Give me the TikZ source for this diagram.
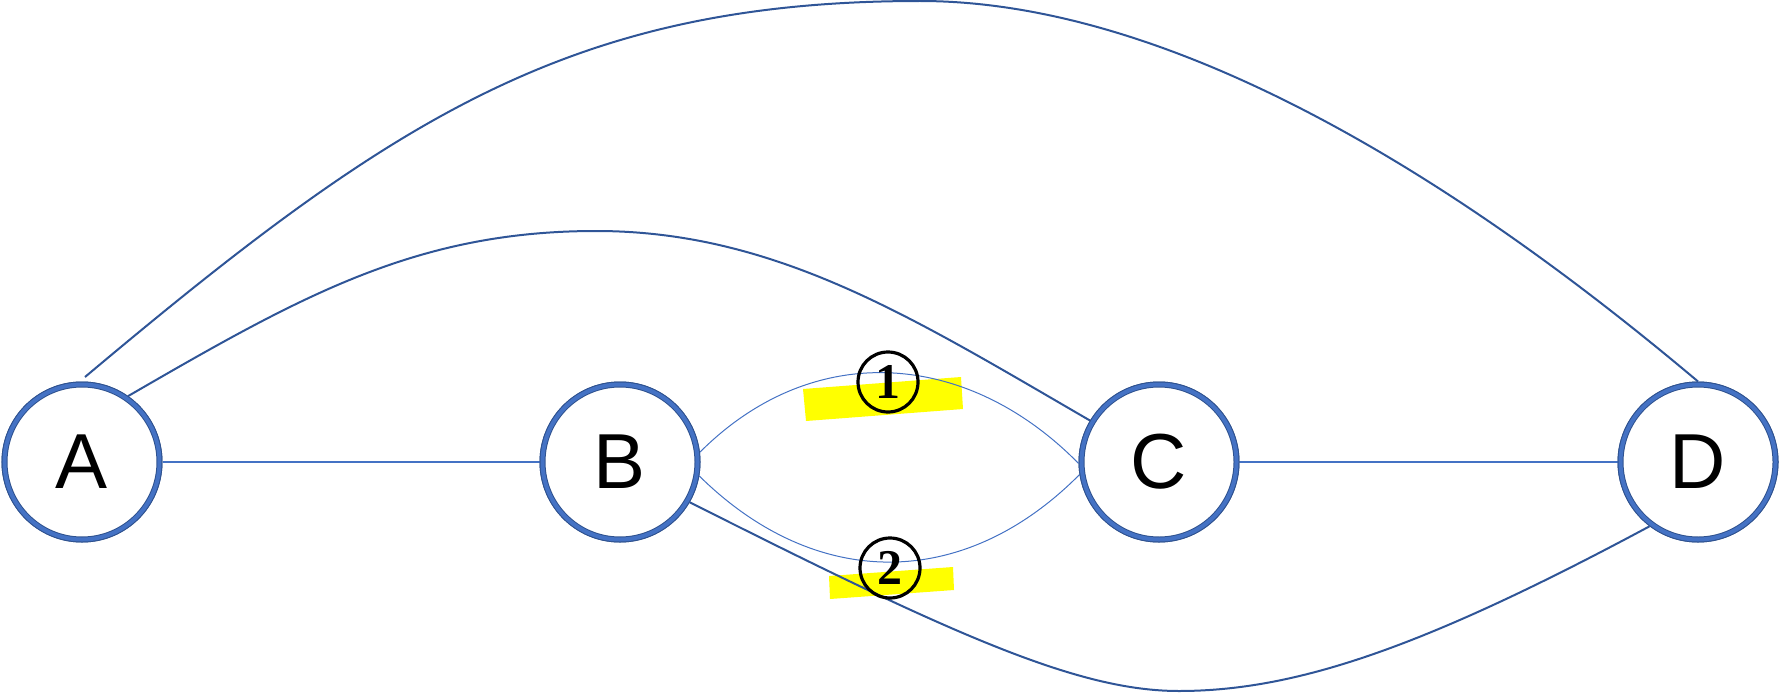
\documentclass[tikz,border=0pt]{standalone}
\usepackage{fontspec}
\newfontfamily\lettersans{Liberation Sans}
\newfontfamily\digitserif{Liberation Serif}
\definecolor{ringblue}{HTML}{4472C4}
\definecolor{ringedge}{HTML}{2F528F}
\definecolor{curveblue}{HTML}{2F5597}
\definecolor{hiyellow}{HTML}{FFFF00}
\tikzset{
  vertex/.style={circle, draw=ringedge, double=ringblue, line width=1pt, double distance=4pt,
    fill=white, minimum size=155pt, inner sep=0pt, outer sep=3pt,
    font=\lettersans\fontsize{78}{80}\selectfont},
  numcirc/.style={circle, draw=black, line width=3.2pt, minimum size=60pt, inner sep=0pt,
    font=\digitserif\bfseries\fontsize{50}{52}\selectfont},
  straightedge/.style={draw=ringblue, line width=1.5pt},
  thinarc/.style={draw=ringblue, line width=1pt},
  bigcurve/.style={draw=curveblue, line width=2pt},
  highlight/.style={fill=hiyellow, draw=none}
}
\begin{document}
\begin{tikzpicture}[x=1pt, y=-1pt]
\useasboundingbox (0,0) rectangle (1779,693);
% highlights
\fill[highlight] (803,389) -- (961,377) -- (963,409) -- (806,421) -- cycle;
\fill[highlight] (829,576) -- (953,567) -- (954,590) -- (830,599) -- cycle;
% nodes (positions)
\node[vertex] (A) at (82,462) {A};
\node[vertex] (B) at (620,462) {B};
\node[vertex] (C) at (1159,462) {C};
\node[vertex] (D) at (1698,462) {D};
\coordinate (ADs) at (85,377);
% connectors
\draw[straightedge] (A.east) -- (B.west);
\draw[straightedge] (C.east) -- (D.west);
\draw[thinarc] (B.7) .. controls (813,339) and (967,350) .. (C.181);
\draw[thinarc] (B.-10) .. controls (817,592) and (965,590) .. (C.189);
\draw[bigcurve] (A.55) .. controls (301,296) and (416,231) .. (596,231)
  .. controls (776,231) and (913,318) .. (C.149);
\draw[bigcurve] (ADs) .. controls (391,120) and (570,1) .. (920,1)
  .. controls (1220,1) and (1544,252) .. (D.90);
\draw[bigcurve] (B.-30) .. controls (957,637) and (1079,691) .. (1179,691)
  .. controls (1299,691) and (1429,644.5) .. (D.233);
% redraw nodes on top so line ends sit at rings
\node[vertex] at (A) {A};
\node[vertex] at (B) {B};
\node[vertex] at (C) {C};
\node[vertex] at (D) {D};
% numbered circles
\node[numcirc] (n1) at (888,382) {1};
\node[numcirc] (n2) at (890,568) {2};
\end{tikzpicture}
\end{document}
